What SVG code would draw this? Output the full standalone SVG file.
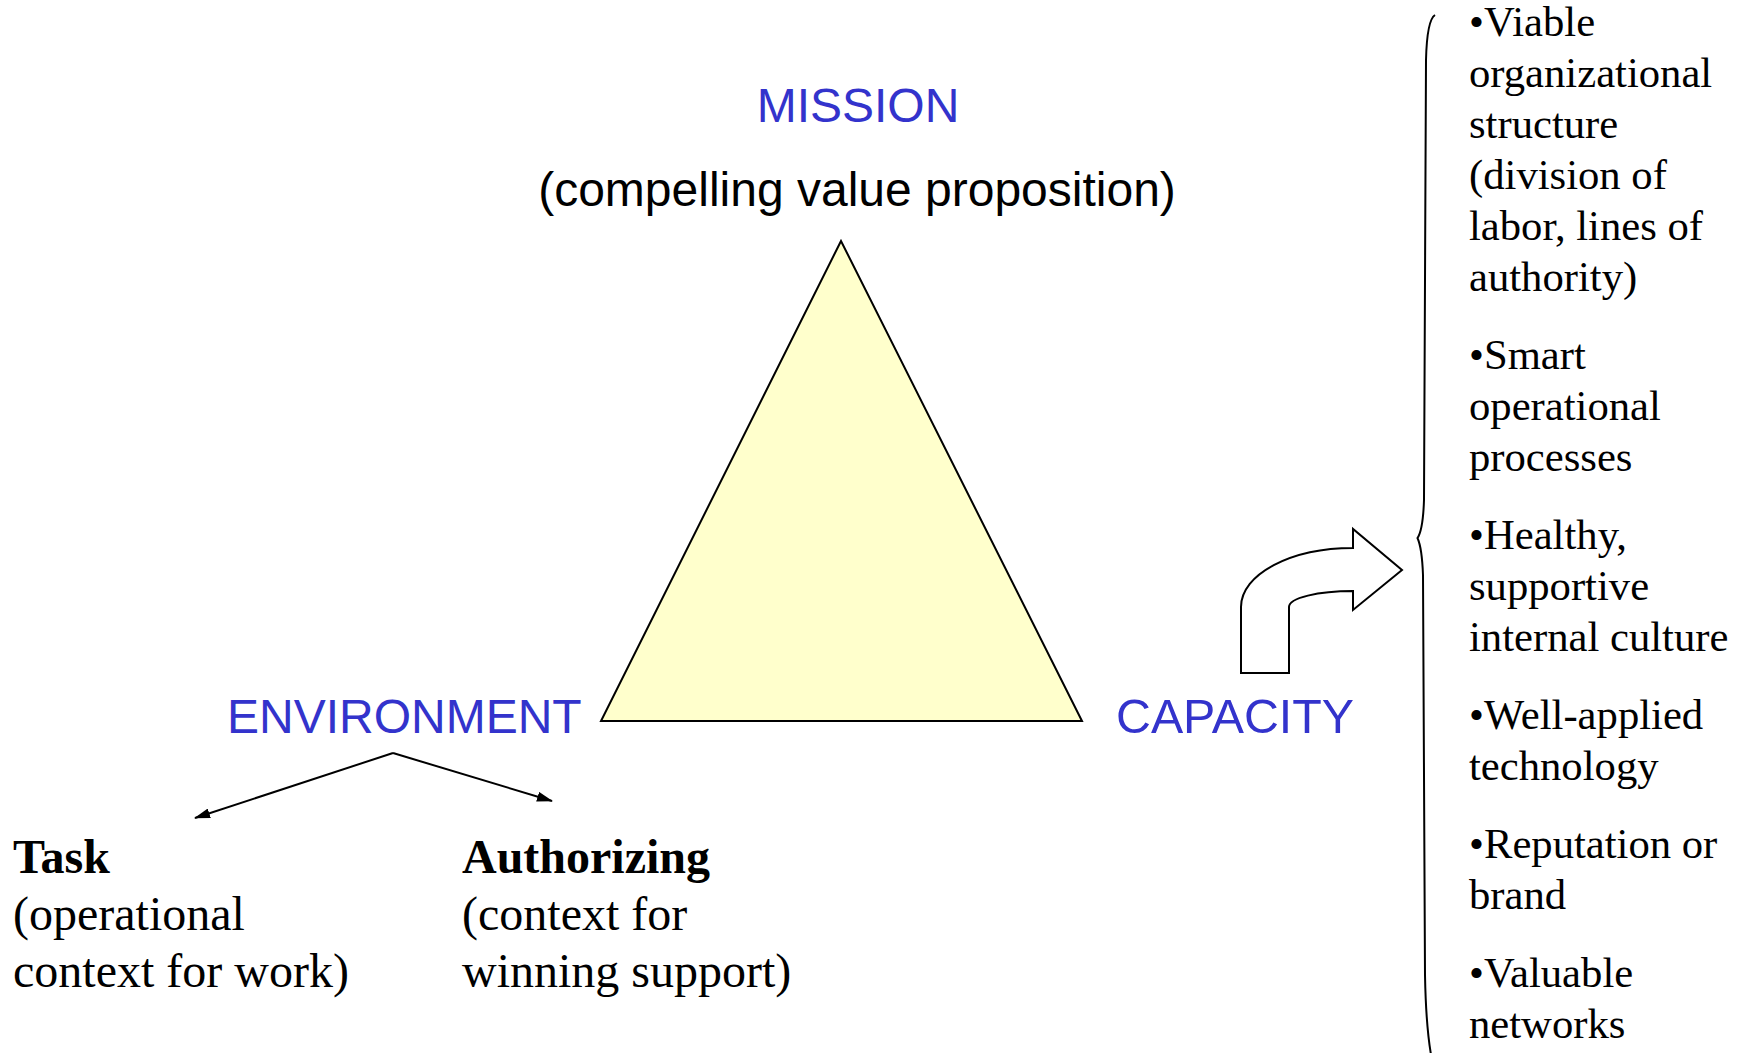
<svg xmlns="http://www.w3.org/2000/svg" width="1745" height="1053" viewBox="0 0 1745 1053">
<style>
.blue{font-family:"Liberation Sans",Arial,sans-serif;font-size:48px;fill:#3333CC}
.sans{font-family:"Liberation Sans",Arial,sans-serif;font-size:48px;fill:#000}
.ser{font-family:"Liberation Serif","Times New Roman",serif;font-size:48px;fill:#000}
.b{font-weight:bold}
.list{font-family:"Liberation Serif","Times New Roman",serif;font-size:42.67px;fill:#000}
.ln{stroke:#000;stroke-width:2;fill:none}
</style>
<defs>
<marker id="ah" viewBox="0 0 16 10" refX="15" refY="5" markerWidth="16" markerHeight="10" markerUnits="userSpaceOnUse" orient="auto">
<path d="M0,0 L16,5 L0,10 Z" fill="#000"/>
</marker>
</defs>
<rect width="1745" height="1053" fill="#fff"/>
<g id="mission">
<text class="blue" x="858" y="122" text-anchor="middle">MISSION</text>
<text class="sans" x="857" y="206" text-anchor="middle">(compelling value proposition)</text>
</g>
<g id="triangle">
<polygon points="841,241 601,721 1082,721" fill="#FFFFCC" stroke="#000" stroke-width="2" stroke-linejoin="miter"/>
</g>
<g id="environment">
<text class="blue" x="227" y="733">ENVIRONMENT</text>
</g>
<g id="capacity">
<text class="blue" x="1116" y="733" textLength="238" lengthAdjust="spacingAndGlyphs">CAPACITY</text>
</g>
<g id="task">
<text class="ser" x="13" y="873"><tspan class="b">Task</tspan></text>
<text class="ser" x="13" y="930">(operational</text>
<text class="ser" x="13" y="987">context for work)</text>
</g>
<g id="authorizing">
<text class="ser" x="462" y="873"><tspan class="b">Authorizing</tspan></text>
<text class="ser" x="462" y="930">(context for</text>
<text class="ser" x="462" y="987">winning support)</text>
</g>
<g id="curved-arrow">
<path d="M1241,673 L1241,607 C1241,574 1291,548 1353,548 L1353,529 L1402,570 L1353,610 L1353,591 C1318,591 1289,598 1289,607 L1289,673 Z" fill="#fff" stroke="#000" stroke-width="2" stroke-linejoin="miter"/>
</g>
<g id="brace">
<path class="ln" d="M1435,15 Q1427,20 1426,60 L1424,500 Q1423,530 1417.5,538 Q1422,548 1423,575 L1425,975 Q1426,1030 1432,1060"/>
</g>
<g id="capacity-list">
<text class="list" x="1469" y="36">•Viable</text>
<text class="list" x="1469" y="87">organizational</text>
<text class="list" x="1469" y="138">structure</text>
<text class="list" x="1469" y="189">(division of</text>
<text class="list" x="1469" y="240">labor, lines of</text>
<text class="list" x="1469" y="291">authority)</text>
<text class="list" x="1469" y="369">•Smart</text>
<text class="list" x="1469" y="420">operational</text>
<text class="list" x="1469" y="471">processes</text>
<text class="list" x="1469" y="549">•Healthy,</text>
<text class="list" x="1469" y="600">supportive</text>
<text class="list" x="1469" y="651">internal culture</text>
<text class="list" x="1469" y="729">•Well-applied</text>
<text class="list" x="1469" y="780">technology</text>
<text class="list" x="1469" y="858">•Reputation or</text>
<text class="list" x="1469" y="909">brand</text>
<text class="list" x="1469" y="987">•Valuable</text>
<text class="list" x="1469" y="1038">networks</text>
</g>
<g id="connectors">
<line class="ln" x1="393" y1="753" x2="195" y2="818" marker-end="url(#ah)"/>
<line class="ln" x1="393" y1="753" x2="552" y2="801" marker-end="url(#ah)"/>
</g>
</svg>
